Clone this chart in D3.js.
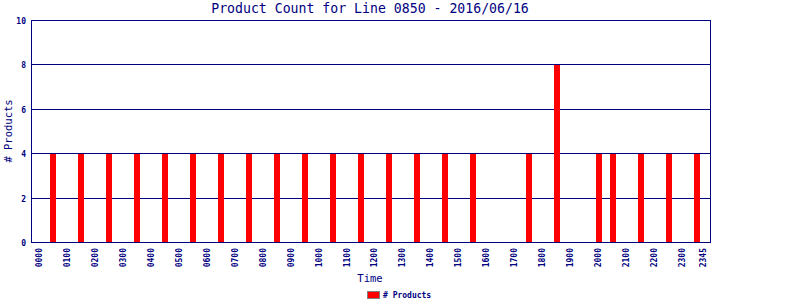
<!DOCTYPE html>
<html>
<head>
<meta charset="utf-8">
<script src="https://cdn.jsdelivr.net/npm/d3@7"></script>
<style>
  body { margin: 0; background: #fff; }
  svg { display: block; }
</style>
</head>
<body>
<svg id="chart" width="800" height="300"></svg>
<script>
// ---- data ----
const title = "Product Count for Line 0850 - 2016/06/16";
const barTimes = ["0030","0130","0230","0330","0430","0530","0630","0730","0830","0930",
                  "1030","1130","1230","1330","1430","1530","1730","1830","2000","2030",
                  "2130","2230","2330"];
const barValues = [4,4,4,4,4,4,4,4,4,4,
                   4,4,4,4,4,4,4,8,4,4,
                   4,4,4];
const xTickLabels = ["0000","0100","0200","0300","0400","0500","0600","0700","0800","0900",
                     "1000","1100","1200","1300","1400","1500","1600","1700","1800","1900",
                     "2000","2100","2200","2300","2345"];
const yTicks = [0,2,4,6,8,10];
const seriesName = "# Products";

// ---- drawing ----
const navy = "#000080";
const toMin = s => +s.slice(0,2) * 60 + +s.slice(2);
const svg = d3.select("#chart");
const L = 31.7, R = 710.3, T = 20.5, B = 242.5;

const x = d3.scaleLinear().domain([-15, 1440]).range([L, R]);
const y = d3.scaleLinear().domain([0, 10]).range([B, T]);

// gridlines
svg.append("g").selectAll("line").data(yTicks.filter(v => v > 0)).join("line")
  .attr("x1", 32).attr("x2", 710)
  .attr("y1", d => Math.floor(y(d)) + 0.5).attr("y2", d => Math.floor(y(d)) + 0.5)
  .attr("stroke", navy).attr("stroke-width", 1);

// bars
svg.append("g").selectAll("rect").data(barTimes.map((t, i) => ({t: toMin(t), v: barValues[i]}))).join("rect")
  .attr("x", d => Math.round(x(d.t) - 2.4))
  .attr("width", 6)
  .attr("y", d => Math.floor(y(d.v)) + 1)
  .attr("height", d => Math.floor(y(0)) - Math.floor(y(d.v)) - 1)
  .attr("fill", "#ff0000")
  .attr("shape-rendering", "crispEdges");

// frame: left, right, bottom
svg.append("line").attr("x1", 31.5).attr("x2", 31.5).attr("y1", 20).attr("y2", 243).attr("stroke", navy);
svg.append("line").attr("x1", 710.5).attr("x2", 710.5).attr("y1", 20).attr("y2", 243).attr("stroke", navy);
svg.append("line").attr("x1", 31).attr("x2", 711).attr("y1", Math.floor(y(0)) + 0.5).attr("y2", Math.floor(y(0)) + 0.5).attr("stroke", navy);

// y tick labels
svg.append("g").selectAll("text").data(yTicks).join("text")
  .attr("x", 26).attr("y", d => Math.floor(y(d)) + 3.5)
  .attr("text-anchor", "end")
  .attr("font-family", "DejaVu Sans Mono").attr("font-size", 8).attr("font-weight", "bold")
  .attr("fill", navy).text(d => d);

// x tick labels (rotated)
svg.append("g").selectAll("text").data(xTickLabels).join("text")
  .attr("transform", d => `translate(${x(toMin(d)) + 3},248) rotate(-90)`)
  .attr("text-anchor", "end")
  .attr("font-family", "DejaVu Sans Mono").attr("font-size", 8).attr("font-weight", "bold")
  .attr("fill", navy).text(d => d);

// title
svg.append("text").attr("x", 370).attr("y", 13).attr("text-anchor", "middle")
  .attr("font-family", "DejaVu Sans Mono").attr("font-size", 13.2)
  .attr("fill", navy).text(title);

// axis titles
svg.append("text").attr("x", 370).attr("y", 282).attr("text-anchor", "middle")
  .attr("font-family", "DejaVu Sans Mono").attr("font-size", 10.5)
  .attr("fill", navy).text("Time");
svg.append("text").attr("transform", "translate(12,131) rotate(-90)").attr("text-anchor", "middle")
  .attr("font-family", "DejaVu Sans Mono").attr("font-size", 10.5)
  .attr("fill", navy).text(seriesName);

// legend
svg.append("rect").attr("x", 367.5).attr("y", 291.5).attr("width", 12).attr("height", 7)
  .attr("fill", "#ff0000").attr("stroke", "#808080");
svg.append("text").attr("x", 383).attr("y", 298)
  .attr("font-family", "DejaVu Sans Mono").attr("font-size", 8).attr("font-weight", "bold")
  .attr("fill", navy).text(seriesName);
</script>
</body>
</html>
